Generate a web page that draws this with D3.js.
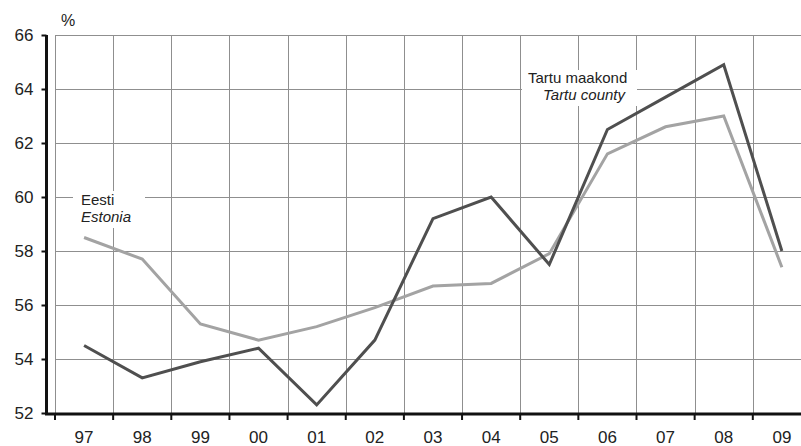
<!DOCTYPE html>
<html>
<head>
<meta charset="utf-8">
<script src="https://cdn.jsdelivr.net/npm/d3@7"></script>
<style>
    body { margin: 0; background: #fff; }
    svg { display: block; font-family: "Liberation Sans", Arial, sans-serif; }
</style>
</head>
<body>
<svg width="801" height="446"></svg>
<script>
const years = ["97", "98", "99", "00", "01", "02", "03", "04", "05", "06", "07", "08", "09"];
const estonia = [58.5, 57.7, 55.3, 54.7, 55.2, 55.9, 56.7, 56.8, 57.9, 61.6, 62.6, 63.0, 57.4];
const tartu = [54.5, 53.3, 53.9, 54.4, 52.3, 54.7, 59.2, 60.0, 57.5, 62.5, 63.7, 64.9, 58.0];
const yTicks = [52, 54, 56, 58, 60, 62, 64, 66];

const svg = d3.select("svg");

// plot runs a bit past the right edge of the picture, like the original
const x = d3.scaleBand().domain(years).range([55, 55 + 13 * 58.15]);
const y = d3.scaleLinear().domain([52, 66]).range([413, 35]);

// grid
const grid = svg.append("g").attr("stroke", "#8f8f8f").attr("stroke-width", 1);
grid.selectAll("line.h")
    .data(yTicks.slice(1))
    .enter().append("line")
    .attr("x1", 55).attr("x2", 801)
    .attr("y1", d => Math.round(y(d)) + 0.5)
    .attr("y2", d => Math.round(y(d)) + 0.5);
grid.selectAll("line.v")
    .data(years)
    .enter().append("line")
    .attr("x1", d => Math.round(x(d)) + 0.5)
    .attr("x2", d => Math.round(x(d)) + 0.5)
    .attr("y1", 35).attr("y2", 413);

// white boxes behind the series labels
svg.append("rect").attr("x", 73).attr("y", 191).attr("width", 72).attr("height", 37).attr("fill", "#fff");
svg.append("rect").attr("x", 522).attr("y", 70).attr("width", 115).attr("height", 36).attr("fill", "#fff");

// lines
const line = d3.line()
    .x((d, i) => x(years[i]) + x.bandwidth() / 2)
    .y(d => y(d));

svg.append("path")
    .datum(estonia)
    .attr("fill", "none")
    .attr("stroke", "#a3a3a3")
    .attr("stroke-width", 3)
    .attr("d", line);

svg.append("path")
    .datum(tartu)
    .attr("fill", "none")
    .attr("stroke", "#4f4f4f")
    .attr("stroke-width", 3)
    .attr("d", line);

// y axis
const yAxis = svg.append("g").attr("transform", "translate(46.5,0)")
    .call(d3.axisLeft(y).tickValues(yTicks).tickSize(5).tickPadding(8));
yAxis.select(".domain").attr("d", "M0,35V414.5").attr("stroke", "#111").attr("stroke-width", 3);
yAxis.selectAll(".tick line").attr("stroke", "#111").attr("stroke-width", 2);
yAxis.selectAll("text").attr("font-size", 17).attr("fill", "#222")
    .attr("font-family", "Liberation Sans, Arial, sans-serif");

// x axis
const xAxis = svg.append("g").attr("transform", "translate(0,414)")
    .call(d3.axisBottom(x).tickSize(0).tickPadding(17));
xAxis.select(".domain").attr("d", "M45,0H801").attr("stroke", "#111").attr("stroke-width", 3);
xAxis.selectAll("text").attr("font-size", 17).attr("fill", "#222")
    .attr("font-family", "Liberation Sans, Arial, sans-serif");
xAxis.selectAll(".tick").append("line")
    .attr("x1", -x.bandwidth() / 2).attr("x2", -x.bandwidth() / 2)
    .attr("y1", 0).attr("y2", 6)
    .attr("stroke", "#111").attr("stroke-width", 2);

// unit
svg.append("text").attr("x", 61).attr("y", 26).attr("font-size", 16).attr("fill", "#222").text("%");

// series labels
svg.append("text").attr("x", 81).attr("y", 205).attr("font-size", 15).attr("fill", "#222").text("Eesti");
svg.append("text").attr("x", 81).attr("y", 222).attr("font-size", 15).attr("fill", "#222")
    .attr("font-style", "italic").text("Estonia");
svg.append("text").attr("x", 528).attr("y", 83).attr("font-size", 15).attr("fill", "#222").text("Tartu maakond");
svg.append("text").attr("x", 543).attr("y", 100).attr("font-size", 15).attr("fill", "#222")
    .attr("font-style", "italic").text("Tartu county");
</script>
</body>
</html>
